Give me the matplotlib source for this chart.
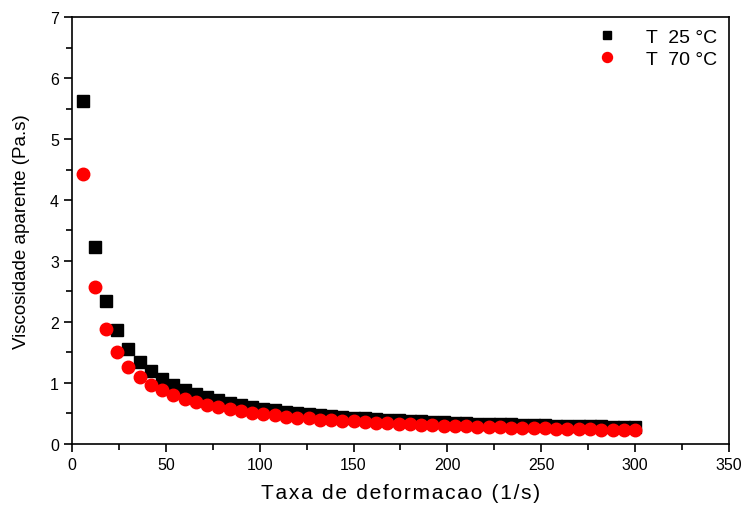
import matplotlib
matplotlib.use("Agg")
import matplotlib.pyplot as plt
from matplotlib.ticker import MultipleLocator

plt.rcParams["font.family"] = ["Liberation Sans", "DejaVu Sans"]

# taxa de deformacao (1/s)
shear_rate = list(range(6, 301, 6))

visc_25 = [
    5.62, 3.23, 2.35, 1.87, 1.56, 1.35, 1.20, 1.07, 0.97, 0.89,
    0.82, 0.77, 0.72, 0.68, 0.64, 0.61, 0.58, 0.55, 0.53, 0.51,
    0.49, 0.47, 0.46, 0.44, 0.43, 0.42, 0.41, 0.40, 0.39, 0.38,
    0.37, 0.36, 0.355, 0.35, 0.34, 0.335, 0.33, 0.325, 0.32, 0.315,
    0.31, 0.305, 0.30, 0.297, 0.294, 0.29, 0.287, 0.284, 0.28, 0.278,
]
visc_70 = [
    4.43, 2.58, 1.89, 1.51, 1.27, 1.10, 0.97, 0.88, 0.80, 0.74,
    0.69, 0.64, 0.60, 0.57, 0.54, 0.51, 0.49, 0.47, 0.45, 0.43,
    0.42, 0.40, 0.39, 0.38, 0.37, 0.36, 0.35, 0.34, 0.33, 0.32,
    0.315, 0.31, 0.30, 0.295, 0.29, 0.285, 0.28, 0.275, 0.27, 0.265,
    0.26, 0.256, 0.252, 0.248, 0.244, 0.24, 0.236, 0.233, 0.23, 0.225,
]

fig = plt.figure(figsize=(7.43, 5.06), dpi=100)
ax = fig.add_axes([0.097, 0.1206, 0.884, 0.8438])

ax.plot(shear_rate, visc_25, linestyle="none", marker="s", markersize=8,
        color="black", label="T  25 \u00b0C")
ax.plot(shear_rate, visc_70, linestyle="none", marker="o", markersize=9,
        color="red", markeredgecolor="red", label="T  70 \u00b0C")

ax.set_xlim(0, 350)
ax.set_ylim(0, 7)
ax.xaxis.set_major_locator(MultipleLocator(50))
ax.xaxis.set_minor_locator(MultipleLocator(25))
ax.yaxis.set_major_locator(MultipleLocator(1))
ax.yaxis.set_minor_locator(MultipleLocator(0.5))
ax.tick_params(which="major", direction="out", length=6, width=1.2, labelsize=11.5)
ax.tick_params(which="minor", direction="out", length=4, width=1.2)
for spine in ax.spines.values():
    spine.set_linewidth(1.2)

xlabel = "Taxa de deformacao (1/s)"
spaced = "\u200a".join(xlabel)
ax.set_xlabel(spaced, fontsize=15, labelpad=8)
ax.set_ylabel("Viscosidade aparente (Pa.s)", fontsize=13.5, labelpad=14)

ax.legend(loc="upper right", frameon=False, fontsize=14, markerscale=0.8,
          handlelength=1.2, handletextpad=1.4, borderaxespad=0.2, labelspacing=0.2)

fig.savefig("out.png", dpi=100)
